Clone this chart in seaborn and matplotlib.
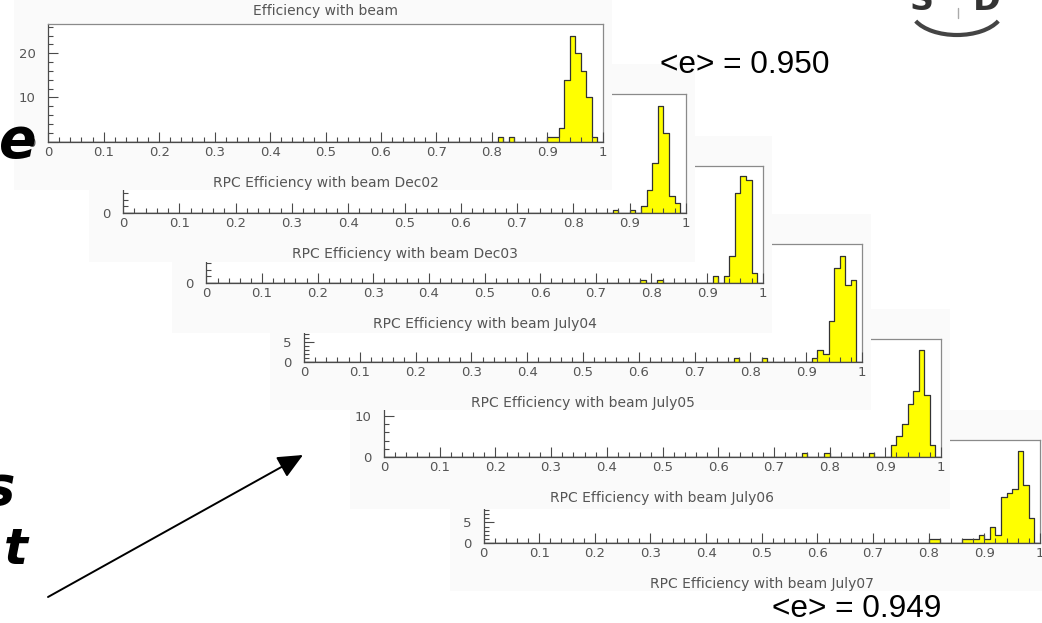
import numpy as np
import pandas as pd
import matplotlib
matplotlib.use("Agg")
import matplotlib.pyplot as plt
import seaborn as sns
from matplotlib.patches import Rectangle, Arc
from matplotlib.ticker import MultipleLocator, FixedLocator, FixedFormatter

# ---------------- data (bin lower edge, counts) ----------------
bin_edges = [round(0.01 * k, 2) for k in range(101)]          # 0.01 wide bins
x_tick_values = [0, 0.1, 0.2, 0.3, 0.4, 0.5, 0.6, 0.7, 0.8, 0.9, 1.0]
x_tick_labels = ["0", "0.1", "0.2", "0.3", "0.4", "0.5", "0.6", "0.7", "0.8", "0.9", "1"]

top_title = "Efficiency with beam"
captions = ["RPC Efficiency with beam Dec02", "RPC Efficiency with beam Dec03",
            "RPC Efficiency with beam July04", "RPC Efficiency with beam July05",
            "RPC Efficiency with beam July06", "RPC Efficiency with beam July07"]

dec02_bins = [0.81, 0.83, 0.90, 0.91, 0.92, 0.93, 0.94, 0.95, 0.96, 0.97, 0.98]
dec02_counts = [1, 1, 1, 1, 3, 14, 24, 20, 16, 10, 1]

dec03_bins = [0.87, 0.90, 0.92, 0.93, 0.94, 0.95, 0.96, 0.97, 0.98]
dec03_counts = [1, 1, 2, 7, 15, 32, 24, 5, 3]

july04_bins = [0.78, 0.81, 0.91, 0.93, 0.94, 0.95, 0.96, 0.97, 0.98]
july04_counts = [1, 1, 2, 2, 8, 27, 32, 31, 3]

july05_bins = [0.77, 0.82, 0.91, 0.92, 0.93, 0.94, 0.95, 0.96, 0.97, 0.98]
july05_counts = [1, 1, 1, 3, 2, 10, 23, 26, 19, 20]

july06_bins = [0.75, 0.79, 0.87, 0.91, 0.92, 0.93, 0.94, 0.95, 0.96, 0.97, 0.98]
july06_counts = [1, 1, 1, 3, 5, 8, 13, 16, 26, 15, 3]

july07_bins = [0.80, 0.81, 0.86, 0.87, 0.88, 0.89, 0.90, 0.91, 0.92, 0.93, 0.94,
               0.95, 0.96, 0.97, 0.98]
july07_counts = [1, 1, 1, 1, 1, 2, 1, 4, 2, 11, 12, 13, 22, 14, 6]

mean_labels = ["<e> = 0.950", "<e> = 0.949"]

series = [(dec02_bins, dec02_counts), (dec03_bins, dec03_counts),
          (july04_bins, july04_counts), (july05_bins, july05_counts),
          (july06_bins, july06_counts), (july07_bins, july07_counts)]

# ---------------- layout (pixels in a 1042x623 canvas) ----------------
W, H = 1042, 623
# x0, x1, frame top, baseline
frames = [(48.2, 602.9, 24.0, 141.7),
          (123.0, 686.0, 94.0, 213.0),
          (206.4, 762.7, 165.7, 283.0),
          (304.0, 862.0, 244.0, 362.3),
          (384.0, 941.0, 339.3, 457.0),
          (483.5, 1040.0, 439.7, 543.3)]
bg_below = [48, 49, 50, 48, 52, 48]
y_tops = [26.6, 35.7, 35.2, 28.9, 28.7, 24.7]
y_major = [10, 10, 10, 5, 10, 5]
y_minor = [2, 2, 2, 1, 2, 1]

YELLOW = "#ffff00"
EDGE = "#333333"
BG = "#fafafa"
AXC = "#4a4a4a"
FRAMEC = "#8a8a8a"
TXT = "#555555"
FS = 9.5
FS_CAP = 10

sns.set_style("white")
plt.rcParams["font.family"] = ["DejaVu Sans"]

fig = plt.figure(figsize=(W / 100, H / 100), dpi=100)
fig.patch.set_facecolor("white")

for i, ((bins, counts), (x0, x1, top, base)) in enumerate(zip(series, frames)):
    hpx = base - top
    ax = fig.add_axes([x0 / W, 1 - base / H, (x1 - x0) / W, hpx / H])
    z = 60 - 10 * i
    ax.set_zorder(z)
    # opaque panel background (covers the panels behind)
    bl, br = x0 - 34, x1 + 9
    bt, bb = top - 30, base + bg_below[i]
    fig.add_artist(Rectangle((bl / W, 1 - bb / H), (br - bl) / W, (bb - bt) / H,
                             transform=fig.transFigure, facecolor=BG,
                             edgecolor="none", zorder=z - 5))
    ax.set_facecolor("white")

    df = pd.DataFrame({"eff": np.asarray(bins) + 0.005, "n": counts})
    sns.histplot(data=df, x="eff", weights="n", bins=bin_edges, element="step",
                 fill=True, color=YELLOW, alpha=1, edgecolor=EDGE,
                 linewidth=0.9, ax=ax)

    ax.set_xlim(0, 1)
    ax.set_ylim(0, y_tops[i])
    ax.set_axisbelow(False)

    ax.xaxis.set_major_locator(FixedLocator(x_tick_values))
    ax.xaxis.set_major_formatter(FixedFormatter(x_tick_labels))
    ax.xaxis.set_minor_locator(MultipleLocator(0.02))
    ax.yaxis.set_major_locator(MultipleLocator(y_major[i]))
    ax.yaxis.set_minor_locator(MultipleLocator(y_minor[i]))

    ax.tick_params(axis="both", which="both", direction="in", color=AXC,
                   width=0.8, labelsize=FS, labelcolor=TXT,
                   bottom=True, left=True, top=False, right=False)
    ax.tick_params(axis="both", which="major", length=7)
    ax.tick_params(axis="both", which="minor", length=3.5)
    ax.tick_params(axis="x", which="major", pad=3)
    ax.tick_params(axis="y", which="major", pad=9)

    for s in ("left", "bottom"):
        ax.spines[s].set_color(AXC)
        ax.spines[s].set_linewidth(0.9)
    for s in ("top", "right"):
        ax.spines[s].set_visible(True)
        ax.spines[s].set_color(FRAMEC)
        ax.spines[s].set_linewidth(0.9)

    ax.set_ylabel("")
    ax.set_xlabel(captions[i], fontsize=FS_CAP, color=TXT)
    ax.xaxis.label.set_va("center")
    ax.xaxis.set_label_coords(0.5, -41.0 / hpx)
    if i == 0:
        ax.set_title(top_title, fontsize=FS_CAP, color=TXT, pad=0,
                     y=1 + 13.0 / hpx, va="center")

# ---------------- overlay: slide annotations ----------------
ov = fig.add_axes([0, 0, 1, 1])
ov.set_zorder(200)
ov.set_xlim(0, W)
ov.set_ylim(H, 0)
ov.axis("off")
ov.patch.set_alpha(0)

ov.text(660, 65, mean_labels[0], fontsize=22.8, family="Liberation Sans",
        ha="left", va="center", color="black")
ov.text(772, 609, mean_labels[1], fontsize=22.8, family="Liberation Sans",
        ha="left", va="center", color="black")

# fragments of slide text cut by the left edge
ov.text(37, 157, "e", fontsize=40, fontweight="bold", fontstyle="italic",
        ha="right", va="baseline", color="black")
ov.text(15, 504, "s", fontsize=38, fontweight="bold", fontstyle="italic",
        ha="right", va="baseline", color="black")
ov.text(28, 564, "t", fontsize=36, fontweight="bold", fontstyle="italic",
        ha="right", va="baseline", color="black")

# arrow
ov.annotate("", xy=(303, 455), xytext=(48, 597),
            arrowprops=dict(arrowstyle="-|>,head_length=0.55,head_width=0.25",
                            mutation_scale=28, lw=1.4, color="black",
                            shrinkA=0, shrinkB=0))

# partial logo top right
ov.add_patch(Arc((957, 10), 92, 50, theta1=15, theta2=165, lw=3, color="#444444"))
ov.text(922, 0, "S", fontsize=24, fontweight="bold", ha="center", va="center",
        color="#333333")
ov.text(987, 0, "D", fontsize=24, fontweight="bold", ha="center", va="center",
        color="#333333")
ov.plot([958, 958], [8, 18], color="#aaaaaa", lw=1)

fig.savefig("out.png", dpi=100)
